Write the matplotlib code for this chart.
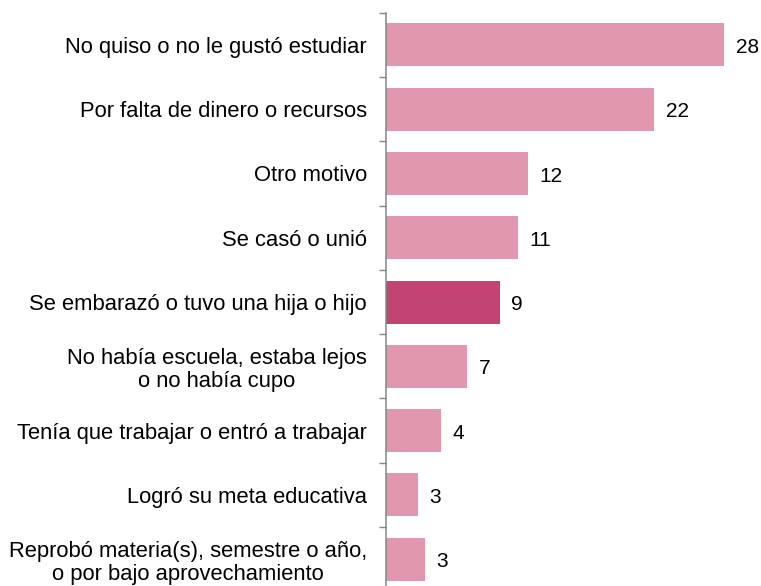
import matplotlib
matplotlib.use("Agg")
import matplotlib.pyplot as plt
import numpy as np

plt.rcParams['font.family'] = ['Liberation Sans', 'DejaVu Sans']

categories = [
    "No quiso o no le gustó estudiar",
    "Por falta de dinero o recursos",
    "Otro motivo",
    "Se casó o unió",
    "Se embarazó o tuvo una hija o hijo",
    "No había escuela, estaba lejos\no no había cupo",
    "Tenía que trabajar o entró a trabajar",
    "Logró su meta educativa",
    "Reprobó materia(s), semestre o año,\no por bajo aprovechamiento",
]
values = [28.0, 22.2, 11.7, 10.9, 9.4, 6.7, 4.5, 2.6, 3.2]
value_labels = ["28", "22", "12", "11", "9", "7", "4", "3", "3"]
highlight = "Se embarazó o tuvo una hija o hijo"

light = "#E197AE"
dark = "#C34472"

fig = plt.figure(figsize=(7.61, 5.86), dpi=100)
ax = fig.add_axes([386.5 / 761, -0.0092, 31 * 12.06 / 761, 578.7 / 586])

y = np.arange(len(categories))
colors = [dark if c == highlight else light for c in categories]
ax.barh(y, values, height=0.67, color=colors, edgecolor='none')

for yi, v, lab in zip(y, values, value_labels):
    ax.text(v + 0.95, yi + 0.04, lab, va='center', ha='left', fontsize=15, color='black')

ax.set_xlim(0, 31)
ax.set_ylim(len(categories) - 0.5, -0.5)
ax.set_yticks(y)
ax.set_yticklabels(categories, fontsize=15.85, multialignment='center', linespacing=1.13)
ax.set_yticks(np.arange(len(categories) + 1) - 0.5, minor=True)
ax.tick_params(axis='y', which='major', length=0, pad=14)
ax.tick_params(axis='y', which='minor', length=5, width=1, color='#868686')
ax.set_xticks([])
for s in ['top', 'right', 'bottom']:
    ax.spines[s].set_visible(False)
ax.spines['left'].set_color('#868686')
ax.spines['left'].set_linewidth(1.1)

fig.savefig("out.png", dpi=100)
